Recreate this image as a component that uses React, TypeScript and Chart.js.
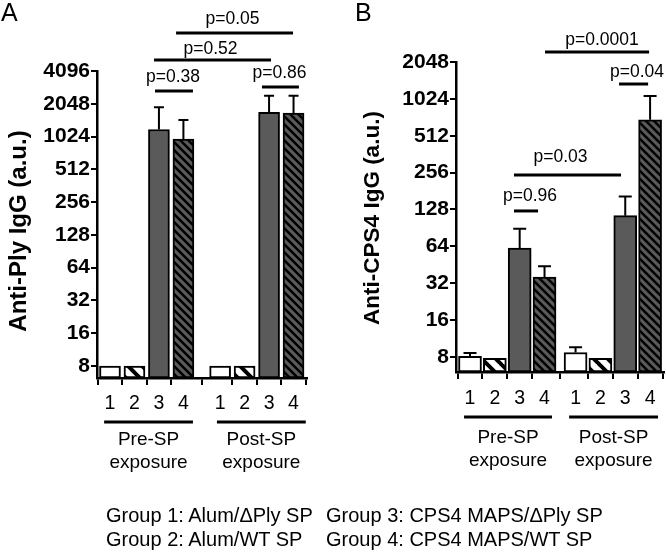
import React, { useEffect, useRef } from 'react';
import { Chart, registerables } from 'chart.js';

Chart.register(...registerables);

const FONT = '"Liberation Sans", Arial, Helvetica, sans-serif';

// ---------- data ----------
const barLabels = ['1', '2', '3', '4'];
const periodLabels = [['Pre-SP', 'exposure'], ['Post-SP', 'exposure']];
const legendLeft = ['Group 1: Alum/ΔPly SP', 'Group 2: Alum/WT SP'];
const legendRight = ['Group 3: CPS4 MAPS/ΔPly SP', 'Group 4: CPS4 MAPS/WT SP'];

const yTicksA = [8, 16, 32, 64, 128, 256, 512, 1024, 2048, 4096];
const yTicksB = [8, 16, 32, 64, 128, 256, 512, 1024, 2048];

// Panel A: anti-Ply IgG (a.u.), groups 1-4
const plyPre = [8, 8, 1190, 970];
const plyPreErr = [null, null, 1900, 1450];
const plyPost = [8, 8, 1710, 1680];
const plyPostErr = [null, null, 2430, 2430];

// Panel B: anti-CPS4 IgG (a.u.), groups 1-4
const cpsPre = [8.1, 7.8, 62, 36];
const cpsPreErr = [8.6, null, 89, 44];
const cpsPost = [8.7, 7.8, 114, 690];
const cpsPostErr = [9.6, null, 163, 1080];

// significance brackets (x in bar units, y in a.u.)
const bracketsA = [
  { label: 'p=0.38', x0: 2.84, x1: 4.39, y: 2680, dy: 14, dx: -1 },
  { label: 'p=0.86', x0: 7.21, x1: 8.72, y: 2920, dy: 14, dx: -1 },
  { label: 'p=0.52', x0: 2.8, x1: 7.58, y: 5170, dy: 11, dx: -2 },
  { label: 'p=0.05', x0: 3.7, x1: 8.48, y: 9150, dy: 14, dx: -2 },
];
const bracketsB = [
  { label: 'p=0.0001', x0: 4.02, x1: 8.21, y: 2470, dy: 12, dx: 5 },
  { label: 'p=0.04', x0: 7.0, x1: 8.17, y: 1354, dy: 12, dx: 3.5 },
  { label: 'p=0.03', x0: 2.77, x1: 7.08, y: 245, dy: 18, dx: -7 },
  { label: 'p=0.96', x0: 2.77, x1: 3.74, y: 124.5, dy: 15, dx: 4 },
];
const underlinesA = [[0.76, 4.39], [5.37, 9.0]];
const underlinesB = [[0.76, 4.3], [4.99, 8.57]];

type Bracket = { label: string; x0: number; x1: number; y: number; dy: number; dx: number };

interface Panel {
  letter: string;
  title: string;
  titleSize: number;
  titleX: number;
  titleY: number;
  pre: number[];
  preErr: (number | null)[];
  post: number[];
  postErr: (number | null)[];
  yTicks: number[];
  yMin: number;
  yMax: number;
  xMin: number;
  xMax: number;
  gap: number;
  barThickness: number;
  cap: number;
  yWidth: number;
  padTop: number;
  padRight: number;
  xHeight: number;
  xTickPad: number;
  brackets: Bracket[];
  underlines: number[][];
  underlineOffset: number;
  labelOffsets: number[];
  letterX: number;
}

const panelA: Panel = {
  letter: 'A',
  title: 'Anti-Ply IgG (a.u.)',
  titleSize: 24,
  titleX: 19,
  titleY: 231,
  pre: plyPre,
  preErr: plyPreErr,
  post: plyPost,
  postErr: plyPostErr,
  yTicks: yTicksA,
  yMin: 6.21,
  yMax: 4096,
  xMin: 0.469,
  xMax: 9.05,
  gap: 0.5,
  barThickness: 21,
  cap: 10,
  yWidth: 97,
  padTop: 71,
  padRight: 26,
  xHeight: 174,
  xTickPad: 7,
  brackets: bracketsA,
  underlines: underlinesA,
  underlineOffset: 44,
  labelOffsets: [18, 41],
  letterX: 1,
};

const panelB: Panel = {
  letter: 'B',
  title: 'Anti-CPS4 IgG (a.u.)',
  titleSize: 22.5,
  titleX: 39.5,
  titleY: 218,
  pre: cpsPre,
  preErr: cpsPreErr,
  post: cpsPost,
  postErr: cpsPostErr,
  yTicks: yTicksB,
  yMin: 6.03,
  yMax: 2048,
  xMin: 0.436,
  xMax: 8.81,
  gap: 0.25,
  barThickness: 23,
  cap: 13,
  yWidth: 123,
  padTop: 62,
  padRight: 2,
  xHeight: 180,
  xTickPad: 8,
  brackets: bracketsB,
  underlines: underlinesB,
  underlineOffset: 45,
  labelOffsets: [21, 44],
  letterX: 22,
};

function makePattern(target: CanvasRenderingContext2D, bg: string, stripe: string, size: number, width: number) {
  const c = document.createElement('canvas');
  c.width = size;
  c.height = size;
  const g = c.getContext('2d')!;
  g.fillStyle = bg;
  g.fillRect(0, 0, size, size);
  g.strokeStyle = stripe;
  g.lineWidth = width;
  g.beginPath();
  for (const k of [-size, 0, size]) {
    g.moveTo(k - 1, -1);
    g.lineTo(k + size + 1, size + 1);
  }
  g.stroke();
  return target.createPattern(c, 'repeat')!;
}

function buildChart(canvas: HTMLCanvasElement, p: Panel) {
  const ctx0 = canvas.getContext('2d')!;
  const fills: any[] = [
    '#ffffff',
    makePattern(ctx0, '#ffffff', '#000000', 14, 4),
    '#5a5a5a',
    makePattern(ctx0, '#5a5a5a', '#000000', 8, 2.5),
  ];
  const pos = (g: number, i: number) => 1 + i + g * (4 + p.gap);
  const values = [p.pre, p.post];
  const errs = [p.preErr, p.postErr];
  const datasets = barLabels.map((_, i) => ({
    data: values.map((v, g) => ({ x: pos(g, i), y: [p.yMin, v[i]] })),
    backgroundColor: fills[i],
    borderColor: '#000',
    borderWidth: 2,
    borderSkipped: false,
    grouped: false,
    barThickness: p.barThickness,
  }));
  const tickPositions = [0, 1].flatMap((g) => barLabels.map((_, i) => pos(g, i)));

  const overlay = {
    id: 'overlay',
    afterDatasetsDraw(chart: any) {
      const { ctx, scales } = chart;
      const x = scales.x;
      const y = scales.y;
      ctx.save();
      ctx.strokeStyle = '#000';
      ctx.lineWidth = 2;
      [0, 1].forEach((g) =>
        errs[g].forEach((e, i) => {
          if (e == null) return;
          const px = x.getPixelForValue(pos(g, i));
          const top = y.getPixelForValue(values[g][i]);
          const ey = y.getPixelForValue(e);
          ctx.beginPath();
          ctx.moveTo(px, top);
          ctx.lineTo(px, ey);
          ctx.moveTo(px - p.cap / 2, ey);
          ctx.lineTo(px + p.cap / 2, ey);
          ctx.stroke();
        })
      );
      ctx.restore();
    },
    afterDraw(chart: any) {
      const { ctx, scales, chartArea } = chart;
      const x = scales.x;
      const y = scales.y;
      ctx.save();
      ctx.fillStyle = '#000';
      ctx.strokeStyle = '#000';
      // brackets
      ctx.lineWidth = 3;
      ctx.font = `17.5px ${FONT}`;
      ctx.textAlign = 'center';
      ctx.textBaseline = 'middle';
      p.brackets.forEach((b) => {
        const x0 = x.getPixelForValue(b.x0);
        const x1 = x.getPixelForValue(b.x1);
        const py = y.getPixelForValue(b.y);
        ctx.beginPath();
        ctx.moveTo(x0, py);
        ctx.lineTo(x1, py);
        ctx.stroke();
        ctx.fillText(b.label, (x0 + x1) / 2 + b.dx, py - b.dy);
      });
      // period underlines and labels
      ctx.font = `19px ${FONT}`;
      const ly = chartArea.bottom + p.underlineOffset;
      p.underlines.forEach((u, g) => {
        const x0 = x.getPixelForValue(u[0]);
        const x1 = x.getPixelForValue(u[1]);
        ctx.beginPath();
        ctx.moveTo(x0, ly);
        ctx.lineTo(x1, ly);
        ctx.stroke();
        periodLabels[g].forEach((t, k) => ctx.fillText(t, (x0 + x1) / 2, ly + p.labelOffsets[k]));
      });
      // y title
      ctx.save();
      ctx.translate(p.titleX, p.titleY);
      ctx.rotate(-Math.PI / 2);
      ctx.font = `bold ${p.titleSize}px ${FONT}`;
      ctx.fillText(p.title, 0, 0);
      ctx.restore();
      // panel letter
      ctx.font = `25px ${FONT}`;
      ctx.textAlign = 'left';
      ctx.textBaseline = 'alphabetic';
      ctx.fillText(p.letter, p.letterX, 21);
      ctx.restore();
    },
  };

  const axisGrid = (len: number) => ({
    display: true,
    drawOnChartArea: false,
    drawTicks: true,
    tickLength: len,
    tickWidth: 2,
    tickColor: '#000',
    color: '#000',
    lineWidth: 2,
  });

  return new Chart(canvas, {
    type: 'bar',
    data: { datasets } as any,
    options: {
      responsive: false,
      animation: false,
      devicePixelRatio: 1,
      layout: { padding: { top: p.padTop, right: p.padRight, left: 0, bottom: 0 } },
      plugins: { legend: { display: false }, tooltip: { enabled: false } },
      scales: {
        x: {
          type: 'linear',
          min: p.xMin,
          max: p.xMax,
          offset: false,
          afterFit: (s: any) => {
            s.height = p.xHeight;
          },
          afterBuildTicks: (s: any) => {
            s.ticks = tickPositions.map((v) => ({ value: v }));
          },
          ticks: {
            autoSkip: false,
            maxRotation: 0,
            minRotation: 0,
            padding: p.xTickPad,
            color: '#000',
            font: { size: 19.5, family: FONT },
            callback: (_v: any, idx: number) => barLabels[idx % 4],
          },
          grid: axisGrid(7),
          border: { display: true, color: '#000', width: 2.5 },
        },
        y: {
          type: 'logarithmic',
          min: p.yMin,
          max: p.yMax,
          afterFit: (s: any) => {
            s.width = p.yWidth;
          },
          afterBuildTicks: (s: any) => {
            s.ticks = p.yTicks.map((v) => ({ value: v }));
          },
          ticks: {
            autoSkip: false,
            padding: 1,
            color: '#000',
            font: { size: 21, weight: 'bold', family: FONT },
            callback: (v: any) => String(v),
          },
          grid: axisGrid(6),
          border: { display: true, color: '#000', width: 2.5 },
        },
      },
    } as any,
    plugins: [overlay],
  });
}

function PanelChart({ panel, left }: { panel: Panel; left: number }) {
  const ref = useRef<HTMLCanvasElement>(null);
  useEffect(() => {
    const chart = buildChart(ref.current!, panel);
    return () => chart.destroy();
  }, [panel]);
  return (
    <canvas
      ref={ref}
      width={333}
      height={552}
      style={{ position: 'absolute', left, top: 0, width: 333, height: 552, display: 'block' }}
    />
  );
}

const legendStyle = (left: number, top: number): React.CSSProperties => ({
  position: 'absolute',
  left,
  top,
  fontFamily: FONT,
  fontSize: 20,
  lineHeight: '22px',
  whiteSpace: 'nowrap',
  color: '#000',
});

export default function App() {
  return (
    <div style={{ position: 'absolute', left: 0, top: 0, width: 666, height: 552, background: '#fff', overflow: 'hidden' }}>
      <PanelChart panel={panelA} left={0} />
      <PanelChart panel={panelB} left={333} />
      {legendLeft.map((t, k) => (
        <div key={t} style={legendStyle(106, 504 + k * 23.5)}>{t}</div>
      ))}
      {legendRight.map((t, k) => (
        <div key={t} style={legendStyle(326, 504 + k * 23.5)}>{t}</div>
      ))}
    </div>
  );
}
